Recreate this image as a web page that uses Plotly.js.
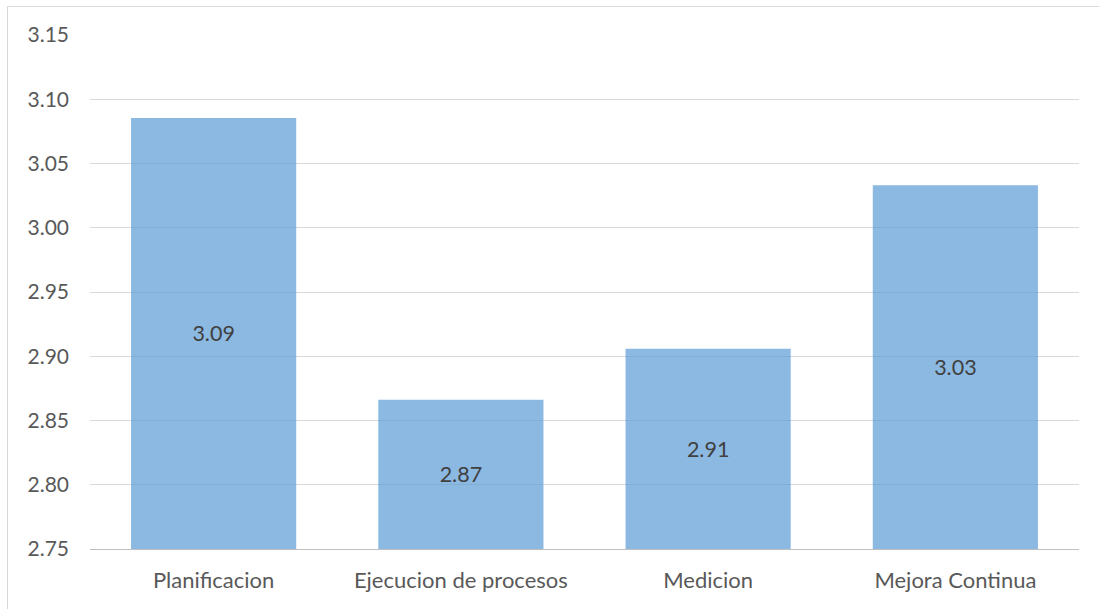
<!DOCTYPE html>
<html>
<head>
<meta charset="utf-8">
<script src="https://cdn.plot.ly/plotly-3.0.1.min.js"></script>
<style>
  html, body { margin: 0; padding: 0; background: #ffffff; overflow: hidden; }
  #frame {
    position: absolute; left: 7px; top: 6px;
    border-left: 1px solid #d9d9d9; border-top: 1px solid #d9d9d9;
  }
  #chart { width: 1091px; height: 602px; }
</style>
</head>
<body>
<div id="frame"><div id="chart"></div></div>
<script>
// Average score per process stage
const categories = ['Planificacion', 'Ejecucion de procesos', 'Medicion', 'Mejora Continua'];
const scores = [3.0855, 2.8662, 2.9059, 3.0330];
const yTickValues = [2.75, 2.80, 2.85, 2.90, 2.95, 3.00, 3.05, 3.10, 3.15];

// Bars start at the bottom of the value axis so the labels sit in the visible middle
const axisFloor = 2.75;
const axisCeil = 3.15;

const fontFamily = 'Lato, "Open Sans", sans-serif';
const xLabelFont = { family: fontFamily, size: 22, color: '#595959' };
const yLabelFont = { family: fontFamily, size: 21, color: '#595959' };

const trace = {
  type: 'bar',
  x: categories,
  base: categories.map(() => axisFloor),
  y: scores.map(v => v - axisFloor),
  text: scores.map(v => v.toFixed(2)),
  textposition: 'inside',
  insidetextanchor: 'middle',
  textangle: 0,
  constraintext: 'none',
  textfont: { family: fontFamily, size: 21.5, color: '#404040' },
  marker: { color: '#5B9BD5', opacity: 0.7, line: { width: 0 } },
  hoverinfo: 'skip'
};

const layout = {
  width: 1091,
  height: 602,
  margin: { l: 82, r: 20, t: 28, b: 60, pad: 0 },
  paper_bgcolor: '#ffffff',
  plot_bgcolor: '#ffffff',
  showlegend: false,
  bargap: 0.332,
  font: yLabelFont,
  xaxis: {
    type: 'category',
    showgrid: false,
    zeroline: false,
    showline: true,
    linecolor: '#bfbfbf',
    linewidth: 1,
    ticks: '',
    tickfont: xLabelFont,
    ticklabelstandoff: 12
  },
  yaxis: {
    range: [axisFloor, axisCeil],
    tickvals: yTickValues,
    ticktext: yTickValues.map(v => v.toFixed(2)),
    showgrid: true,
    gridcolor: '#d9d9d9',
    gridwidth: 1,
    zeroline: false,
    showline: false,
    ticks: '',
    tickfont: yLabelFont,
    ticklabelstandoff: 20
  }
};

Plotly.newPlot('chart', [trace], layout, { displayModeBar: false, staticPlot: true });
</script>
</body>
</html>
